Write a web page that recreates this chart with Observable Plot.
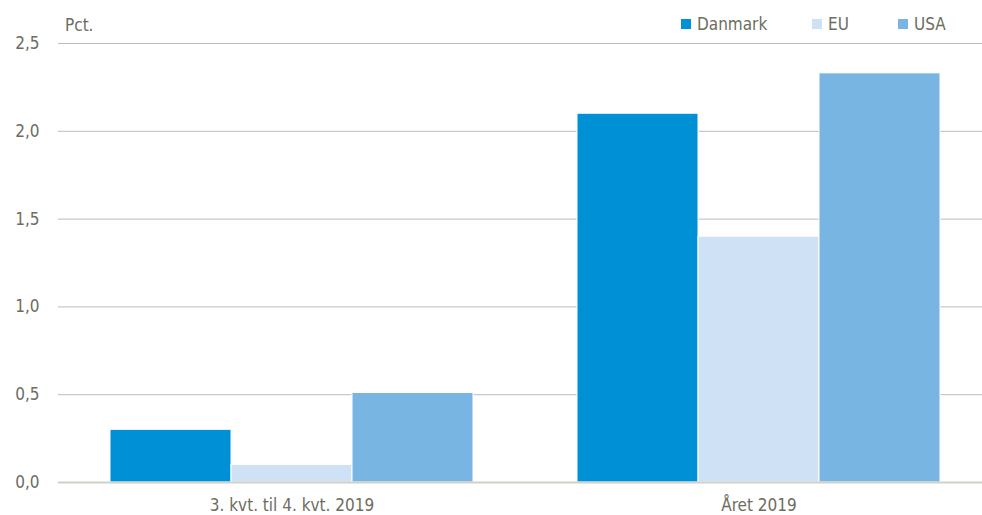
<!DOCTYPE html>
<html>
<head>
<meta charset="utf-8">
<script src="https://cdn.jsdelivr.net/npm/d3@7"></script>
<script src="https://cdn.jsdelivr.net/npm/@observablehq/plot@0.6"></script>
<style>
  html, body { margin: 0; padding: 0; background: #fff; }
  #wrap { position: relative; width: 982px; height: 515px; overflow: hidden;
    font-family: "Liberation Sans Narrow", "Arial Narrow", "DejaVu Sans Condensed", "Liberation Sans", sans-serif; color: #6d6d60; }
  #wrap svg { position: absolute; left: 0; top: 0; max-width: none !important; }
  .ov { position: absolute; font-size: 17px; line-height: 1; white-space: nowrap; }
  .sw { position: absolute; width: 10px; height: 10px; }
</style>
</head>
<body>
<div id="wrap"></div>
<script>
const groups = ["3. kvt. til 4. kvt. 2019", "Året 2019"];
const series = ["Danmark", "EU", "USA"];
const danmark = [0.3, 2.1];
const eu = [0.1, 1.4];
const usa = [0.51, 2.33];
const colors = ["#0090d5", "#cfe2f5", "#78b5e3"];
const yTicks = [0, 0.5, 1, 1.5, 2, 2.5];
const unitLabel = "Pct.";

const values = [danmark, eu, usa];
const data = [];
groups.forEach((g, gi) => series.forEach((s, si) => data.push({group: g, series: s, value: values[si][gi]})));

const fontFam = '"Liberation Sans Narrow", "Arial Narrow", "DejaVu Sans Condensed", "Liberation Sans", sans-serif';

const chart = Plot.plot({
  width: 992,
  height: 515,
  marginLeft: 57,
  marginRight: 0,
  marginTop: 43,
  marginBottom: 33,
  style: {fontFamily: fontFam, fontSize: "17px", color: "#6d6d60", background: "transparent", overflow: "visible", maxWidth: "none"},
  fx: {domain: groups, padding: 0, label: null, axis: "bottom", tickSize: 0, tickPadding: 16},
  x: {domain: series, padding: 0, paddingOuter: 0.418, axis: null},
  y: {domain: [0, 2.5], ticks: yTicks, label: null, tickSize: 0, tickPadding: 19,
      tickFormat: d => d.toFixed(1).replace(".", ",")},
  color: {domain: series, range: colors},
  marks: [
    Plot.ruleY(yTicks.filter(d => d > 0), {stroke: "#bdbdb2", strokeWidth: 1}),
    Plot.barY(data, {fx: "group", x: "series", y: "value", fill: "series", stroke: "#fff", strokeWidth: 1}),
    Plot.ruleY([0], {stroke: "#d0d0c8", strokeWidth: 2})
  ]
});

const wrap = document.getElementById("wrap");
wrap.appendChild(chart);

function addText(txt, x, y) {
  const d = document.createElement("div");
  d.className = "ov"; d.textContent = txt;
  d.style.left = x + "px"; d.style.top = y + "px";
  wrap.appendChild(d);
}
addText(unitLabel, 65, 17);
const legendX = [681, 812, 898];
series.forEach((s, i) => {
  const sw = document.createElement("div");
  sw.className = "sw"; sw.style.background = colors[i];
  sw.style.left = legendX[i] + "px"; sw.style.top = "19px";
  wrap.appendChild(sw);
  addText(s, legendX[i] + 16, 16);
});
</script>
</body>
</html>
